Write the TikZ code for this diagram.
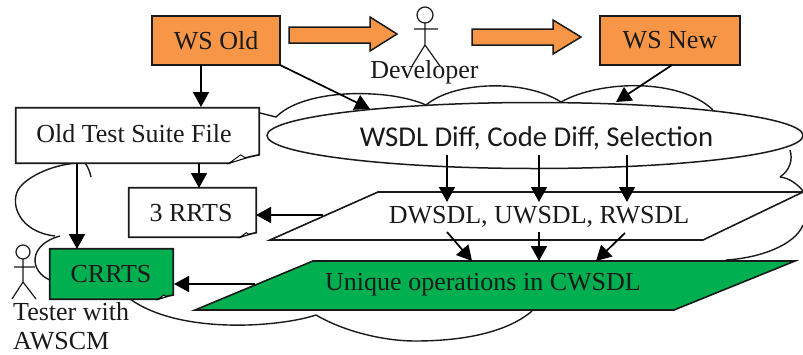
\documentclass[tikz,border=0pt]{standalone}
\usepackage{fontspec}
\setmainfont{Liberation Serif}
\newfontfamily\calib{Carlito}
\usetikzlibrary{arrows.meta,shapes.geometric,calc}
\definecolor{orangefill}{HTML}{F79646}
\definecolor{greenfill}{HTML}{00B050}
\definecolor{inkc}{HTML}{1A1A1A}
\newcommand{\docpath}[3]{%
  \draw[doc,fill=#2] (#1.north west) -- (#1.north east) -- ($(#1.south east)+(0,-#3*0.28)$)
    .. controls ($(#1.south east)+(-#3*0.4,-#3*0.2)$) and ($(#1.south east)+(-#3*0.8,-#3*0.1)$) .. ($(#1.south east)+(-#3,0)$)
    -- (#1.south west) -- cycle;
  \draw[line width=0.9pt,fill=white] ($(#1.south east)+(-#3,0)$) -- ($(#1.south east)+(-#3*0.62,-#3*0.28)$)
    -- ($(#1.south east)+(-#3*0.45,-#3*0.17)$) -- cycle;}
\tikzset{
  x=1pt,y=-1pt,
  every node/.style={font=\fontsize{26}{28}\selectfont,text=inkc,inner sep=0pt},
  outline/.style={line width=1.6pt,draw=inkc},
  doc/.style={line width=1.7pt,draw=inkc},
  cloudline/.style={line width=1.4pt,draw=inkc},
  conn/.style={line width=1.7pt,draw=black,-{Triangle[length=15pt,width=16pt]}},
  blockarrow/.style={line width=1.5pt,draw=inkc,fill=orangefill},
  stick/.style={line width=1.2pt,draw=inkc},
  ws/.style={outline,fill=orangefill,rectangle},
}
\begin{document}
\begin{tikzpicture}
\useasboundingbox (0,0) rectangle (803,354);
\fill[white] (0,0) rectangle (803,354);
% cloud outline
\draw[cloudline] (260,113) -- (276,117) .. controls (296,97) and (340,92) .. (372,94) .. controls (395,95) and (415,100) .. (426,105);
\draw[cloudline] (426,105) .. controls (455,81) and (525,79) .. (561,102);
\draw[cloudline] (561,102) .. controls (600,80) and (680,78) .. (713,110);
\draw[cloudline] (790,150) .. controls (793,160) and (790,170) .. (780,177) ;
\draw[cloudline] (780,177) .. controls (790,178) and (798,185) .. (803,191);
\draw[cloudline] (803,225) .. controls (795,245) and (760,258) .. (726,260);
\draw[cloudline] (532,311) .. controls (510,330) and (470,341) .. (415,341) .. controls (385,341) and (345,332) .. (316,315);
\draw[cloudline] (316,315) .. controls (280,327) and (180,335) .. (130,299);
\draw[cloudline] (50,280) .. controls (30,272) and (27,245) .. (60,236);
\draw[cloudline] (55,236) .. controls (20,232) and (10,205) .. (18,190) .. controls (25,178) and (50,165) .. (77,163);
\draw[cloudline] (85,163) .. controls (88,167) and (90,172) .. (91,177);
% ellipse
\node[ellipse,draw=inkc,line width=1.5pt,fill=white,minimum width=536pt,minimum height=66pt] (diffshape) at (535,135.5) {};
\node[font=\calib\fontsize{28.7}{30}\selectfont] (difftext) at (536.5,138) {WSDL Diff, Code Diff, Selection};
% parallelograms
\coordinate (pa) at (378,192); \coordinate (pb) at (803,192); \coordinate (pc) at (703,240); \coordinate (pd) at (270,240);
\draw[outline,fill=white] (pa) -- (pb) -- (pc) -- (pd) -- cycle;
\node (dwsdl) at (539,217) {DWSDL, UWSDL, RWSDL};
\coordinate (ga) at (313,261); \coordinate (gb) at (795,261); \coordinate (gc) at (674,310); \coordinate (gd) at (195,310);
\draw[outline,fill=greenfill] (ga) -- (gb) -- (gc) -- (gd) -- cycle;
\node (unique) at (483,285) {Unique operations in CWSDL};
% boxes
\node[ws,minimum width=128pt,minimum height=49pt] (wsold) at (216,40.5) {WS Old};
\node[ws,minimum width=140pt,minimum height=49pt] (wsnew) at (670,40.5) {WS New};
\node[rectangle,minimum width=243pt,minimum height=55pt] (oldsuite) at (137.5,135.5) {};
\docpath{oldsuite}{white}{30}
\node (oldsuitetext) at (134,134) {Old Test Suite File};
\node[rectangle,minimum width=127pt,minimum height=49pt] (rrts) at (192.5,212.5) {};
\docpath{rrts}{white}{16}
\node (rrtstext) at (191,213) {3 RRTS};
\node[rectangle,minimum width=123pt,minimum height=50pt] (crrts) at (111.5,274) {};
\docpath{crrts}{greenfill}{15}
\node (crrtstext) at (111,274) {CRRTS};
% block arrows
\draw[blockarrow] (289,27) -- (370,27) -- (370,17) -- (397,34) -- (370,51) -- (370,43) -- (289,43) -- cycle;
\draw[blockarrow] (472,29) -- (553,29) -- (553,20) -- (581,37) -- (553,54) -- (553,45) -- (472,45) -- cycle;
% developer
\draw[stick] (425,15) circle[radius=8];
\draw[stick] (425,23) -- (425,45) (414,29) -- (438,29) (412,66) -- (425,45) -- (440,66);
\node (developer) at (424.5,72) {Developer};
% tester
\draw[stick] (23,252) circle[radius=7];
\draw[stick] (23,259) -- (23,282) (14,267) -- (35,267) (12,299) -- (23,282) -- (36,299);
\node[anchor=west] (tester) at (13,312) {Tester with};
\node[anchor=west] (awscm) at (13,341) {AWSCM};
% connector ends
\coordinate (c1a) at (201,65); \coordinate (c1b) at (201,107);
\coordinate (c2a) at (280,65); \coordinate (c2b) at (370,109);
\coordinate (c3a) at (672,65); \coordinate (c3b) at (616,102);
\coordinate (c4a) at (199,163); \coordinate (c4b) at (199,188);
\coordinate (c5a) at (77,163); \coordinate (c5b) at (77,249);
\coordinate (c6a) at (323,215); \coordinate (c6b) at (256,215);
\coordinate (c7a) at (255,284); \coordinate (c7b) at (174,284);
\draw[conn] (c1a) -- (c1b);
\draw[conn] (c2a) -- (c2b);
\draw[conn] (c3a) -- (c3b);
\draw[conn] (c4a) -- (c4b);
\draw[conn] (c5a) -- (c5b);
\draw[conn] (c6a) -- (c6b);
\draw[conn] (c7a) -- (c7b);
\foreach \n/\xa/\ya/\xb/\yb in {d1/447/155/447/202,d2/539/155/539/202,d3/627/155/627/202,e1/447/232/472/261,e2/539/232/539/261,e3/625/233/596/261}{
  \coordinate (\n a) at (\xa,\ya); \coordinate (\n b) at (\xb,\yb);
  \draw[conn] (\n a) -- (\n b);
}
\end{tikzpicture}
\end{document}
